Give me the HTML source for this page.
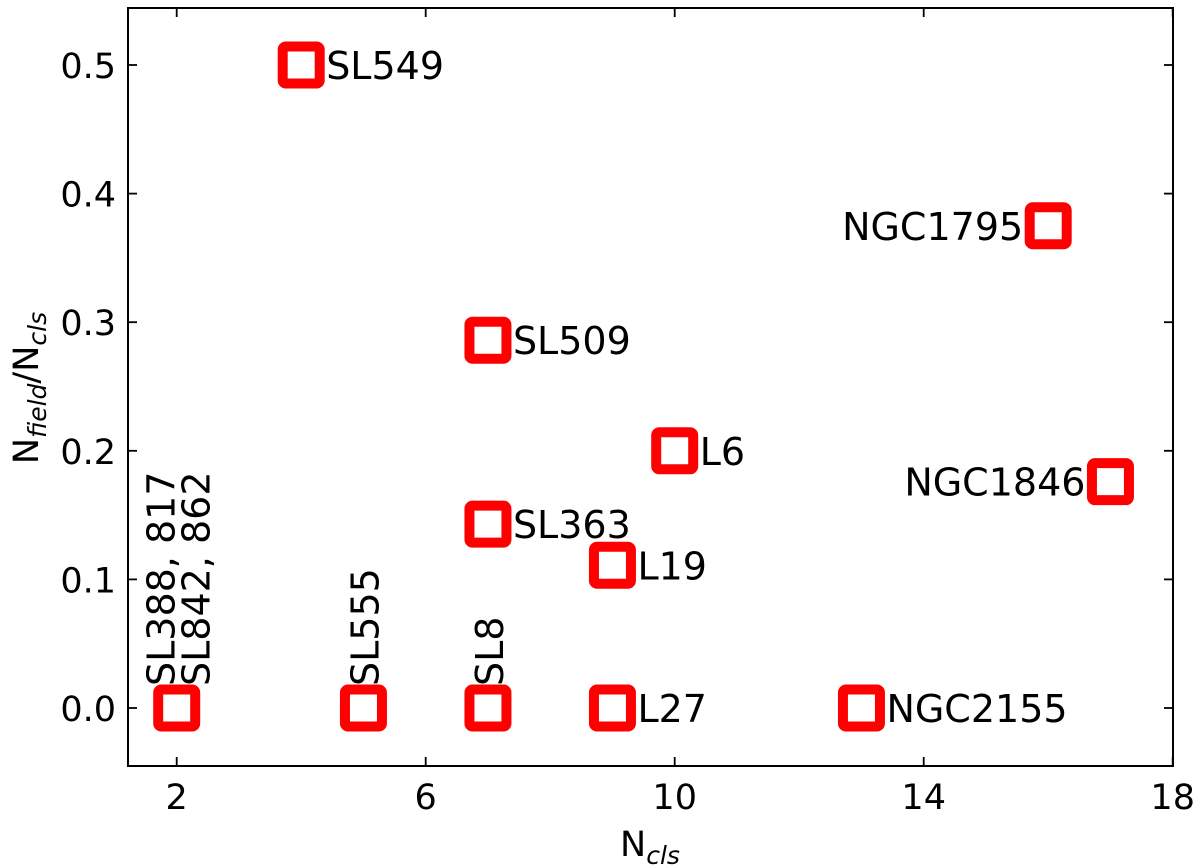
<!DOCTYPE html>
<html><head><meta charset="utf-8"><style>body{margin:0;background:#fff}svg{display:block}text{font-family:"DejaVu Sans","Liberation Sans",sans-serif;fill:#000}</style></head>
<body>
<svg width="1200" height="868" viewBox="0 0 1200 868">
<g id="g"></g>
</svg>
<script>
const names=["SL549","NGC1795","SL509","L6","NGC1846","SL363","L19","SL388","SL555","SL8","L27","NGC2155"];
const xVals=[4,16,7,10,17,7,9,2,5,7,9,13];
const yVals=[0.5,0.375,0.286,0.2,0.176,0.143,0.111,0,0,0,0,0];
const labelText=["SL549","NGC1795","SL509","L6","NGC1846","SL363","L19","SL388, 817|SL842, 862","SL555","SL8","L27","NGC2155"];
const labelPos=["right","left","right","right","left","right","right","up","up","up","right","right"];
const xTicks=[2,6,10,14,18];
const yTicks=[0,0.1,0.2,0.3,0.4,0.5];
const yTickLabels=["0.0","0.1","0.2","0.3","0.4","0.5"];
const L=128,R=1173,T=8,B=766;
const X=v=>176.7+(v-2)*62.25;
const Y=v=>708-v*1286;
const ns="http://www.w3.org/2000/svg",g=document.getElementById('g');
function mk(t,a,txt){const e=document.createElementNS(ns,t);for(const k in a)e.setAttribute(k,a[k]);if(txt!=null)e.textContent=txt;g.appendChild(e);return e;}
xTicks.forEach(v=>{
 let e=mk('line',{x1:X(v),x2:X(v),y1:B,y2:B-9,stroke:'#000','stroke-width':1.8});
 
 e=mk('line',{x1:X(v),x2:X(v),y1:T,y2:T+9,stroke:'#000','stroke-width':1.8});
 
 e=mk('text',{x:X(v),y:B+43,'font-size':35,'text-anchor':'middle'},String(v));
 
});
yTicks.forEach((v,i)=>{
 let e=mk('line',{x1:L,x2:L+9,y1:Y(v),y2:Y(v),stroke:'#000','stroke-width':1.8});
 
 e=mk('line',{x1:R,x2:R-9,y1:Y(v),y2:Y(v),stroke:'#000','stroke-width':1.8});
 
 e=mk('text',{x:L-12,y:Y(v)+13,'font-size':35,'text-anchor':'end'},yTickLabels[i]);
 
});
let fr=mk('rect',{x:L,y:T,width:R-L,height:B-T,fill:'none',stroke:'#000','stroke-width':2});

names.forEach((n,i)=>{
 const cx=X(xVals[i]),cy=Y(yVals[i]);
 let e=mk('rect',{x:cx-18.5,y:cy-18.5,width:37,height:37,rx:3,fill:'none',stroke:'#ff0000','stroke-width':10});
 
 const p=labelPos[i];
 if(p==='right'){e=mk('text',{x:cx+25,y:cy+14,'font-size':38},labelText[i]);}
 else if(p==='left'){e=mk('text',{x:cx-25,y:cy+14,'font-size':38,'text-anchor':'end'},labelText[i]);}
 else{
  const parts=labelText[i].split('|');
  parts.forEach((s,j)=>{
   const tx=cx+(parts.length>1?(j===0?-2:33):15);
   const t=mk('text',{x:tx,y:cy-22,'font-size':38,transform:`rotate(-90 ${tx} ${cy-22})`},s);
   
  });
  return;
 }
 
});
let xl=mk('text',{x:650,y:856,'font-size':35,'text-anchor':'middle'});
xl.innerHTML='N<tspan font-size="25" font-style="italic" dy="8">cls</tspan>';

let yl=mk('text',{x:38,y:388,'font-size':35,'text-anchor':'middle',transform:'rotate(-90 38 388)'});
yl.innerHTML='N<tspan font-size="25" font-style="italic" dy="8">field</tspan><tspan dy="-8">/N</tspan><tspan font-size="25" font-style="italic" dy="8">cls</tspan>';

</script>
</body></html>
